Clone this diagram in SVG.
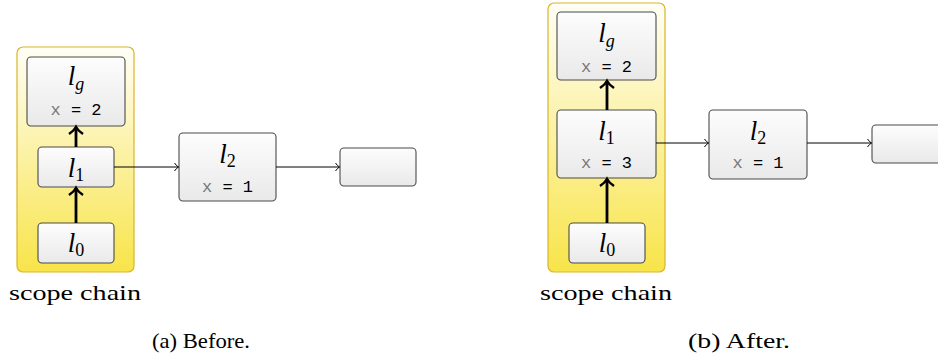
<svg xmlns="http://www.w3.org/2000/svg" width="938" height="359" viewBox="0 0 938 359">
<defs>
<linearGradient id="yel" x1="0" y1="0" x2="0" y2="1">
<stop offset="0" stop-color="#fffef6"/>
<stop offset="1" stop-color="#f8e449"/>
</linearGradient>
<linearGradient id="box" x1="0" y1="0" x2="0" y2="1">
<stop offset="0" stop-color="#fdfdfd"/>
<stop offset="1" stop-color="#e9e9e9"/>
</linearGradient>
<marker id="thin" markerUnits="userSpaceOnUse" markerWidth="12" markerHeight="12" viewBox="-8 -6 10 12" refX="0" refY="0" orient="auto">
<path d="M-4,-4 Q-2,-1 0,0 Q-2,1 -4,4" fill="none" stroke="#000" stroke-width="1"/>
</marker>
<marker id="thick" markerUnits="userSpaceOnUse" markerWidth="20" markerHeight="20" viewBox="-12 -10 14 20" refX="0" refY="0" orient="auto">
<path d="M-7,-7 Q-3.5,-1.8 0,0 Q-3.5,1.8 -7,7" fill="none" stroke="#000" stroke-width="2.5"/>
</marker>
</defs>
<style>
.scope{fill:url(#yel);stroke:#d9b52a;stroke-width:1.2}
.box{fill:url(#box);stroke:#4a4a4a;stroke-width:1.1}
.l{font-family:"Liberation Serif",serif;font-style:italic;font-size:27px;fill:#000}
.sub{font-size:18px;font-style:normal}
.subi{font-size:18px}
.code{font-family:"Liberation Mono","DejaVu Sans Mono",monospace;font-size:17px;fill:#000}
.gx{fill:#777}
.cap{font-family:"Liberation Serif",serif;font-size:22px;fill:#000}
.ta{stroke:#000;stroke-width:1;fill:none;marker-end:url(#thin)}
.tk{stroke:#000;stroke-width:2.8;fill:none;marker-end:url(#thick)}
</style>

<g id="panel-a">
<g id="a-scope"><rect class="scope" x="17" y="47" width="117" height="225" rx="6"/></g>
<g id="a-lg"><rect class="box" x="27" y="57" width="98" height="69" rx="4"/>
<text class="l" x="76" y="85" text-anchor="middle">l<tspan class="subi" dy="5">g</tspan></text>
<text class="code" x="76" y="115" text-anchor="middle" xml:space="preserve"><tspan class="gx">x</tspan> = 2</text></g>
<g id="a-l1"><rect class="box" x="38" y="147" width="76" height="40" rx="4"/>
<text class="l" x="76" y="177" text-anchor="middle">l<tspan class="sub" dy="4">1</tspan></text></g>
<g id="a-l0"><rect class="box" x="38" y="223" width="76" height="40" rx="4"/>
<text class="l" x="76" y="252" text-anchor="middle">l<tspan class="sub" dy="4">0</tspan></text></g>
<g id="a-l2"><rect class="box" x="179" y="133" width="97" height="68" rx="4"/>
<text class="l" x="227.5" y="163" text-anchor="middle">l<tspan class="sub" dy="4">2</tspan></text>
<text class="code" x="227.5" y="192" text-anchor="middle" xml:space="preserve"><tspan class="gx">x</tspan> = 1</text></g>
<g id="a-empty"><rect class="box" x="340" y="148" width="76" height="38" rx="4"/></g>
<text class="cap" x="9" y="300" textLength="132" lengthAdjust="spacingAndGlyphs">scope chain</text>
<text class="cap" x="152" y="348" textLength="98" lengthAdjust="spacingAndGlyphs">(a) Before.</text>
</g>

<g id="panel-b">
<g id="b-scope"><rect class="scope" x="548" y="3" width="117" height="269" rx="6"/></g>
<g id="b-lg"><rect class="box" x="557" y="12" width="99" height="68" rx="4"/>
<text class="l" x="606.5" y="42" text-anchor="middle">l<tspan class="subi" dy="5">g</tspan></text>
<text class="code" x="606.5" y="72" text-anchor="middle" xml:space="preserve"><tspan class="gx">x</tspan> = 2</text></g>
<g id="b-l1"><rect class="box" x="557" y="110" width="99" height="68" rx="4"/>
<text class="l" x="606.5" y="140" text-anchor="middle">l<tspan class="sub" dy="4">1</tspan></text>
<text class="code" x="606.5" y="168" text-anchor="middle" xml:space="preserve"><tspan class="gx">x</tspan> = 3</text></g>
<g id="b-l0"><rect class="box" x="569" y="223" width="76" height="40" rx="4"/>
<text class="l" x="607" y="252" text-anchor="middle">l<tspan class="sub" dy="4">0</tspan></text></g>
<g id="b-l2"><rect class="box" x="709" y="110" width="98" height="69" rx="4"/>
<text class="l" x="758" y="140" text-anchor="middle">l<tspan class="sub" dy="4">2</tspan></text>
<text class="code" x="758" y="168" text-anchor="middle" xml:space="preserve"><tspan class="gx">x</tspan> = 1</text></g>
<g id="b-empty"><rect class="box" x="872" y="125" width="76" height="38" rx="4"/></g>
<text class="cap" x="540" y="300" textLength="132" lengthAdjust="spacingAndGlyphs">scope chain</text>
<text class="cap" x="688" y="348" textLength="102" lengthAdjust="spacingAndGlyphs">(b) After.</text>
</g>

<g id="connectors">
<line class="tk" x1="76" y1="223" x2="76" y2="188"/>
<line class="tk" x1="76" y1="147" x2="76" y2="127"/>
<line class="ta" x1="114" y1="167" x2="178.5" y2="167"/>
<line class="ta" x1="276" y1="167" x2="339.5" y2="167"/>
<line class="tk" x1="607" y1="223" x2="607" y2="179"/>
<line class="tk" x1="607" y1="110" x2="607" y2="81"/>
<line class="ta" x1="656" y1="143" x2="708.5" y2="143"/>
<line class="ta" x1="807" y1="143" x2="871.5" y2="143"/>
</g>
</svg>
